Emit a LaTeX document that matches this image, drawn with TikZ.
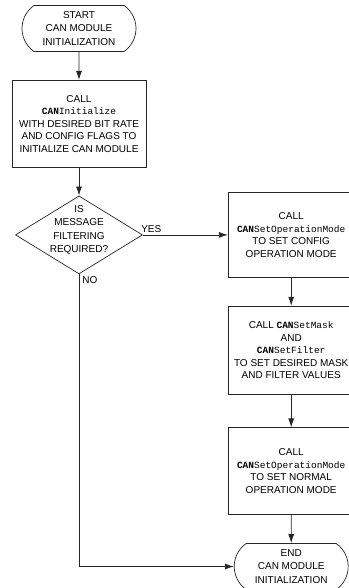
\documentclass[tikz,border=0pt]{standalone}
\usepackage{fontspec}
\setmainfont{Liberation Sans}
\setmonofont{Liberation Mono}
\usetikzlibrary{positioning}
\usetikzlibrary{shapes.geometric,shapes.misc}
\usetikzlibrary{arrows.meta}

\newcommand{\canfn}[1]{{\fontsize{9.5}{12.5}\selectfont\ttfamily\textbf{CAN}#1}}

\tikzset{
  terminal/.style={draw=black!85, line width=0.7pt, rounded rectangle, rounded rectangle arc length=110,
    minimum width=114pt, minimum height=46pt, inner sep=0pt, align=center,
    font=\fontsize{10}{13.5}\selectfont},
  process/.style={draw=black!85, line width=0.7pt, rectangle, minimum width=126pt, inner sep=0pt,
    align=center, font=\fontsize{10}{12.5}\selectfont},
  decision/.style={draw=black!85, line width=0.7pt, diamond, minimum width=127pt, minimum height=78pt,
    inner sep=0pt},
  dectext/.style={align=center, font=\fontsize{10}{13.5}\selectfont, yshift=5pt},
  flow/.style={draw=black!85, line width=0.8pt, -{Latex[length=9pt,width=6pt]}},
  branch/.style={font=\fontsize{10}{12}\selectfont, inner sep=2pt}
}

\begin{document}
\begin{tikzpicture}[x=1pt,y=1pt]

  \useasboundingbox (0,0) rectangle (348,-588);

  % Nodes

  \node[terminal] (start) at (79,-28.5) {START\\CAN MODULE\\INITIALIZATION} ; %
  \node[process, minimum width=134pt, minimum height=87pt, below=28pt of start] (init)
    {CALL\\\canfn{Initialize}\\WITH DESIRED BIT RATE\\AND CONFIG FLAGS TO\\INITIALIZE CAN MODULE} ; %
  \node[decision, below=28pt of init,
    label={[dectext]center:{IS\\MESSAGE\\FILTERING\\REQUIRED?}}] (filter) {} ; %

  \node[process, minimum height=85pt, right=85pt of filter] (cfgmode)
    {CALL\\\canfn{SetOperationMode}\\TO SET CONFIG\\OPERATION MODE} ; %
  \node[process, minimum height=88pt, below=28pt of cfgmode] (maskfilt)
    {CALL \canfn{SetMask}\\AND\\\canfn{SetFilter}\\TO SET DESIRED MASK\\AND FILTER VALUES} ; %
  \node[process, minimum height=87pt, below=33pt of maskfilt] (normmode)
    {CALL\\\canfn{SetOperationMode}\\TO SET NORMAL\\OPERATION MODE} ; %
  \node[terminal, below=28pt of normmode] (finish) {END\\CAN MODULE\\INITIALIZATION} ; %

  \draw[flow] (start) -- (init);
  \draw[flow] (init) -- (filter);
  \draw[flow] (filter.east) -- node[branch, pos=0, anchor=south west, xshift=-4pt] (yes) {YES} (cfgmode.west);
  \draw[flow] (cfgmode) -- (maskfilt);
  \draw[flow] (maskfilt) -- (normmode);
  \draw[flow] (normmode) -- (finish);
  \draw[flow] (filter.south) |- node[branch, pos=0, anchor=north west, xshift=1pt] (no) {NO} (finish.west);

\end{tikzpicture}
\end{document}
